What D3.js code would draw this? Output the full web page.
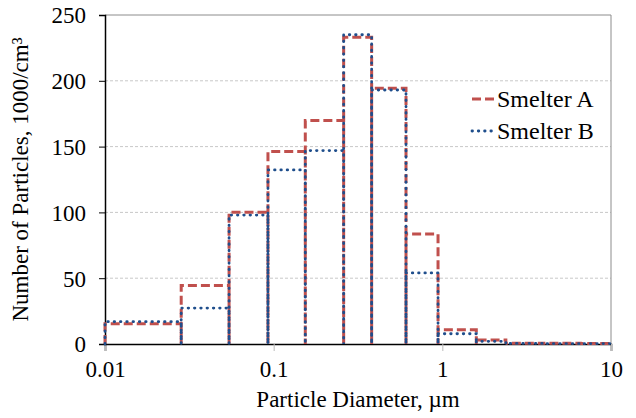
<!DOCTYPE html>
<meta charset="utf-8">
<style>
body {
  margin: 0;
  background: #fff;
}
.grid line {
  stroke: #c8c8c8;
  stroke-dasharray: 3,2;
  stroke-width: 1;
}
</style>
<body>
<svg width="636" height="418"></svg>
<script src="https://cdn.jsdelivr.net/npm/d3@7/dist/d3.min.js"></script>
<script>
// bin edges (µm) of the impactor stages
var binEdges = [0.01, 0.0283, 0.0544, 0.0925, 0.154, 0.26, 0.381, 0.609, 0.943, 1.59, 2.38, 3.98, 6.58, 10];
// number of particles per bin, 1000/cm3
var smelterA = [15.4, 44.5, 100.2, 146.2, 169.8, 233, 194.4, 83.5, 10.9, 3, 0.6, 0.5, 0.4];
var smelterB = [17, 27.3, 98, 132.3, 147, 235, 193, 54, 7.8, 2, 0.4, 0.3, 0.3];
var seriesNames = ["Smelter A", "Smelter B"];
var yTicks = [0, 50, 100, 150, 200, 250];
var xTicks = [0.01, 0.1, 1, 10];

var serif = "'Liberation Serif', 'Times New Roman', serif";

var svg = d3.select("svg"),
    margin = {top: 15, right: 25, bottom: 74, left: 105},
    width = +svg.attr("width") - margin.left - margin.right,
    height = +svg.attr("height") - margin.top - margin.bottom;

var x = d3.scaleLog().domain([0.01, 10]).range([0, width]),
    y = d3.scaleLinear().domain([0, 250]).range([height, 0]);

var g = svg.append("g")
    .attr("transform", "translate(" + margin.left + "," + margin.top + ")");

// gridlines
g.append("g")
    .attr("class", "grid")
  .selectAll("line")
  .data(yTicks.filter(function(d) { return d > 0 && d < 250; }))
  .enter().append("line")
    .attr("x1", 0)
    .attr("x2", width)
    .attr("y1", function(d) { return y(d); })
    .attr("y2", function(d) { return y(d); });

// plot border top/right
g.append("path")
    .attr("d", "M0," + y(250) + "H" + width + "V" + height)
    .attr("fill", "none")
    .attr("stroke", "#8c8c8c")
    .attr("stroke-width", 1);

// x axis
var xAxis = g.append("g")
    .attr("transform", "translate(0," + height + ")")
    .call(d3.axisBottom(x).tickValues(xTicks).tickFormat(d3.format("")).tickSize(7).tickPadding(10));
xAxis.attr("font-family", null).attr("font-size", null);
xAxis.select(".domain").attr("stroke", "#000").attr("stroke-width", 1.5);
xAxis.selectAll(".tick line").attr("stroke", "#bbb");
xAxis.selectAll("text")
    .style("font-family", serif)
    .style("font-size", "23px");

// y axis
var yAxis = g.append("g")
    .call(d3.axisLeft(y).tickValues(yTicks).tickSize(6).tickPadding(13));
yAxis.attr("font-family", null).attr("font-size", null);
yAxis.select(".domain").attr("stroke", "#000").attr("stroke-width", 1.5);
yAxis.selectAll(".tick line").attr("stroke", "#000");
yAxis.selectAll("text")
    .style("font-family", serif)
    .style("font-size", "23px")
    .attr("dy", "0.34em");

// step outlines
function stepPoints(vals) {
  var pts = [];
  vals.forEach(function(v, i) {
    pts.push([binEdges[i], 0], [binEdges[i], v], [binEdges[i + 1], v], [binEdges[i + 1], 0]);
  });
  return pts;
}
var line = d3.line()
    .x(function(d) { return x(d[0]); })
    .y(function(d) { return y(d[1]); });

var styles = [
  {color: "#c0504d", width: 3, dash: "9,4", cap: "butt"},
  {color: "#1f4e8c", width: 2.8, dash: "0.5,5.8", cap: "round"}
];

[smelterA, smelterB].forEach(function(vals, i) {
  g.append("path")
      .attr("d", line(stepPoints(vals)))
      .attr("fill", "none")
      .attr("stroke", styles[i].color)
      .attr("stroke-width", styles[i].width)
      .attr("stroke-linecap", styles[i].cap)
      .attr("stroke-dasharray", styles[i].dash);
});

// legend
var legend = g.selectAll(".legend")
    .data(seriesNames)
  .enter().append("g")
    .attr("transform", function(d, i) { return "translate(366," + (84 + i * 32) + ")"; });
legend.append("line")
    .attr("x1", 1).attr("x2", 23)
    .attr("stroke", function(d, i) { return styles[i].color; })
    .attr("stroke-width", function(d, i) { return styles[i].width; })
    .attr("stroke-linecap", function(d, i) { return styles[i].cap; })
    .attr("stroke-dasharray", function(d, i) { return styles[i].dash; });
legend.append("text")
    .attr("x", 26)
    .attr("dy", "0.34em")
    .style("font-family", serif)
    .style("font-size", "24px")
    .text(function(d) { return d; });

// axis titles
g.append("text")
    .attr("x", width / 2)
    .attr("y", height + 63)
    .attr("text-anchor", "middle")
    .style("font-family", serif)
    .style("font-size", "23px")
    .text("Particle Diameter, µm");

g.append("text")
    .attr("transform", "rotate(-90)")
    .attr("x", -height / 2)
    .attr("y", -77)
    .attr("text-anchor", "middle")
    .style("font-family", serif)
    .style("font-size", "23px")
    .text("Number of Particles, 1000/cm³");
</script>
</body>
